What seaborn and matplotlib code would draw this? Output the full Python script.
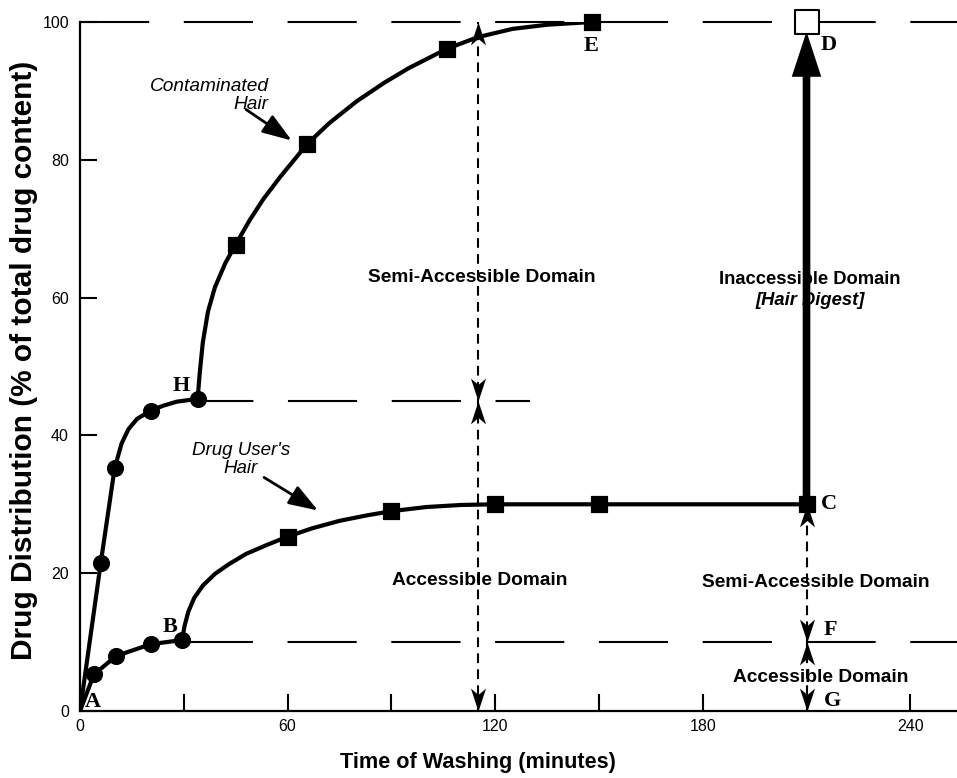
import numpy as np
import pandas as pd
import seaborn as sns
import matplotlib.pyplot as plt
from matplotlib.path import Path
from matplotlib.ticker import MultipleLocator

# points
cont_circ_t = [6, 10, 20.5, 34]
cont_circ_y = [21.5, 35.2, 43.6, 45.3]
cont_sq_t = [45, 65.7, 106, 148]
cont_sq_y = [67.7, 82.3, 96.1, 100]

user_circ_t = [4, 10.5, 20.5, 29.5]
user_circ_y = [5.3, 8.0, 9.7, 10.3]
user_sq_t = [60, 90, 120, 150, 210]
user_sq_y = [25.3, 29.0, 30.0, 30.0, 30.0]

# shape of the smooth curves
cont_curve_t = [0, 6, 10, 12, 14, 16.5, 20.5, 24, 28, 34,
                34.6, 35.5, 37, 39, 42, 45, 49, 53, 58, 65.7,
                72, 80, 88, 95, 106, 115, 125, 135, 148]
cont_curve_y = [0, 21.5, 35.2, 38.8, 40.9, 42.4, 43.6, 44.3, 44.9, 45.3,
                49, 53.5, 58, 61.5, 65, 67.7, 71.2, 74.3, 77.6, 82.3,
                85.3, 88.5, 91.2, 93.3, 96.1, 97.8, 99, 99.6, 100]
user_curve_t = [0, 4, 10.5, 20.5, 29.5, 30.2, 31.3, 33, 35.5, 39, 43, 48, 54, 60,
                67, 75, 83, 90, 100, 110, 120, 150, 210]
user_curve_y = [0, 5.3, 8.0, 9.7, 10.3, 12.3, 14.4, 16.4, 18.2, 19.9, 21.3, 22.8, 24.1, 25.3,
                26.5, 27.6, 28.4, 29, 29.6, 29.9, 30, 30, 30]

# long-dash reference levels
ref_level = [100, 45, 10]
ref_start = [0, 34, 29.5]
ref_end = [253.5, 130, 253.5]

# domain arrows
dom_x = [115, 210]
dom_top = [100, 30]
dom_mid = [45, 10]

sns.set_style("ticks")
plt.rcParams['font.family'] = ['Liberation Sans', 'DejaVu Sans']
plt.rcParams['lines.scale_dashes'] = False
for k in ['text.color', 'axes.labelcolor', 'xtick.color', 'ytick.color', 'axes.edgecolor']:
    plt.rcParams[k] = 'black'

fig = plt.figure(figsize=(9.57, 7.78), dpi=100)
ax = fig.add_axes([80/957, 67/778, 877/957, 689/778])
ax.set_xlim(0, 253.5)
ax.set_ylim(0, 100)

# px per data unit along x, for dash phase
ppu = (ax.transData.transform((1, 0)) - ax.transData.transform((0, 0)))[0]
pt = 72 / fig.dpi
dash_on = 20 * ppu * pt
dash_off = 10 * ppu * pt

for lev, x0, x1 in zip(ref_level, ref_start, ref_end):
    ax.plot([x0, x1], [lev, lev], color='black', lw=1.5,
            linestyle=(x0 * ppu * pt, (dash_on, dash_off)), clip_on=False, zorder=1)

# curves
sns.lineplot(x=cont_curve_t, y=cont_curve_y, sort=False, estimator=None, color='black', lw=3, ax=ax)
sns.lineplot(x=user_curve_t, y=user_curve_y, sort=False, estimator=None, color='black', lw=3, ax=ax)
sns.scatterplot(x=cont_circ_t + user_circ_t, y=cont_circ_y + user_circ_y, marker='o', s=130,
                color='black', edgecolor='black', ax=ax, zorder=5)
sns.scatterplot(x=cont_sq_t + user_sq_t, y=cont_sq_y + user_sq_y, marker='s', s=120,
                color='black', edgecolor='black', ax=ax, zorder=5, clip_on=False)
# D: open square
ax.scatter([210], [100], marker='s', s=300, facecolor='white', edgecolor='black', lw=1.5, zorder=6, clip_on=False)

# thick arrow C -> D
ax.annotate('', xy=(210, 98.6), xytext=(210, 30),
            arrowprops=dict(arrowstyle='simple,head_length=1.3,head_width=0.85,tail_width=0.22',
                            mutation_scale=25, fc='black', ec='none', shrinkA=0, shrinkB=0), zorder=4)

# dashed domain arrows
for x, top, mid in zip(dom_x, dom_top, dom_mid):
    ax.plot([x, x], [0, top], color='black', lw=1.5, linestyle=(0, (7, 4.5)), zorder=2)
up = Path([(0, 0), (-0.33, -1), (0, -0.72), (0.33, -1), (0, 0)],
          [Path.MOVETO, Path.LINETO, Path.LINETO, Path.LINETO, Path.CLOSEPOLY])
down = Path([(0, 0), (-0.33, 1), (0, 0.72), (0.33, 1), (0, 0)],
            [Path.MOVETO, Path.LINETO, Path.LINETO, Path.LINETO, Path.CLOSEPOLY])
ax.scatter(dom_x + dom_x, dom_top + dom_mid, marker=up, s=33**2, color='black', lw=0, zorder=6, clip_on=False)
ax.scatter(dom_x + dom_x, dom_mid + [0, 0], marker=down, s=33**2, color='black', lw=0, zorder=6, clip_on=False)

# labels on the plot
bold = dict(fontsize=13.8, fontweight='bold', ha='center', va='center')
ax.text(116, 62.9, 'Semi-Accessible Domain', **bold)
ax.text(115.5, 18.9, 'Accessible Domain', **bold)
ax.text(211, 62.6, 'Inaccessible Domain', fontsize=13.2, fontweight='bold', ha='center', va='center')
ax.text(211, 59.6, '[Hair Digest]', fontsize=13.2, fontweight='bold', fontstyle='italic', ha='center', va='center')
ax.text(212.7, 18.7, 'Semi-Accessible Domain', **bold)
ax.text(214, 4.8, 'Accessible Domain', **bold)

ax.text(54.5, 89.3, 'Contaminated\nHair', fontsize=13.8, fontstyle='italic', ha='right', va='center',
        multialignment='right', linespacing=1.1)
ax.annotate('', xy=(61.2, 82.8), xytext=(48, 87.3),
            arrowprops=dict(arrowstyle='-|>,head_length=1.0,head_width=0.35', mutation_scale=18,
                            color='black', lw=2, shrinkA=0, shrinkB=0))
ax.text(46.5, 36.5, "Drug User's\nHair", fontsize=13.5, fontstyle='italic', ha='center', va='center',
        linespacing=1.1)
ax.annotate('', xy=(68.8, 29.1), xytext=(53.2, 33.9),
            arrowprops=dict(arrowstyle='-|>,head_length=1.0,head_width=0.35', mutation_scale=18,
                            color='black', lw=2, shrinkA=0, shrinkB=0))

serif = dict(fontsize=16, fontweight='bold', family=['Liberation Serif', 'DejaVu Serif'], va='center', ha='center')
letters = {'A': (3.8, 1.3), 'B': (26, 12.2), 'H': (29.4, 47.1), 'E': (147.6, 96.5),
           'D': (216.5, 96.7), 'C': (216.5, 30), 'F': (217, 11.8), 'G': (217.5, 1.5)}
for k, (x, y) in letters.items():
    ax.text(x, y, k, **serif)

# axes
sns.despine(ax=ax)
for s in ['left', 'bottom']:
    ax.spines[s].set_linewidth(1.6)
ax.set_xticks([0, 60, 120, 180, 240])
ax.xaxis.set_minor_locator(MultipleLocator(30))
ax.set_yticks([0, 20, 40, 60, 80, 100])
ax.tick_params(which='both', direction='in', length=12, width=1.5, labelsize=11.5, pad=6)
ax.tick_params(axis='y', pad=8)
ax.set_xlabel('Time of Washing (minutes)', fontsize=15.6, fontweight='bold')
ax.set_ylabel('Drug Distribution (% of total drug content)', fontsize=21.5, fontweight='bold')
ax.xaxis.set_label_coords((478 - 80) / 877, -(752 - 711) / 689)
ax.yaxis.set_label_coords(-(80 - 38) / 877, (711 - 360) / 689)

fig.savefig('out.png', dpi=100)
